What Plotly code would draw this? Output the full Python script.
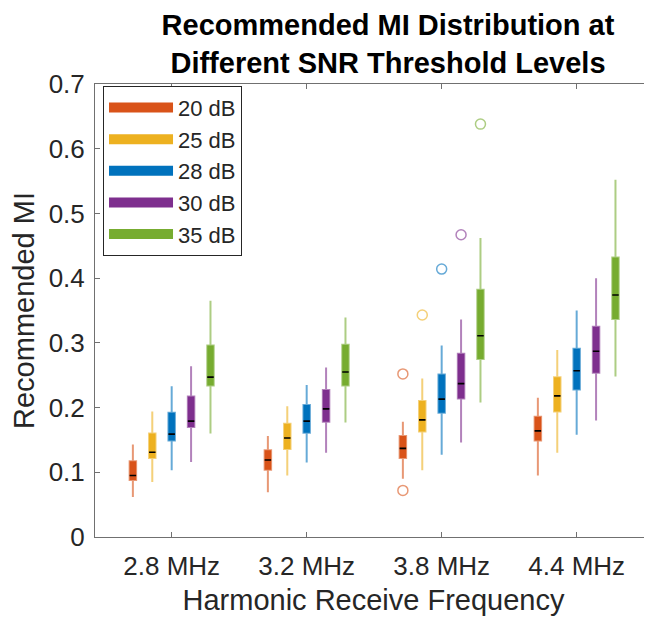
import plotly.graph_objects as go

freqs = ["2.8 MHz", "3.2 MHz", "3.8 MHz", "4.4 MHz"]
snr_levels = ["20 dB", "25 dB", "28 dB", "30 dB", "35 dB"]
colors = ["#D95319", "#EDB120", "#0072BD", "#7E2F8E", "#77AC30"]
edge_colors = ["rgba(217,83,25,0.6)", "rgba(237,177,32,0.6)", "rgba(0,114,189,0.6)",
               "rgba(126,47,142,0.6)", "rgba(119,172,48,0.6)"]

# per SNR level, values across the 4 frequencies
lower_whisker = {
    "20 dB": [0.062, 0.069, 0.090, 0.095],
    "25 dB": [0.085, 0.095, 0.103, 0.130],
    "28 dB": [0.103, 0.115, 0.127, 0.158],
    "30 dB": [0.116, 0.130, 0.146, 0.180],
    "35 dB": [0.160, 0.177, 0.208, 0.248],
}
q1 = {
    "20 dB": [0.088, 0.104, 0.122, 0.149],
    "25 dB": [0.122, 0.136, 0.163, 0.194],
    "28 dB": [0.149, 0.161, 0.192, 0.228],
    "30 dB": [0.170, 0.178, 0.214, 0.254],
    "35 dB": [0.234, 0.234, 0.275, 0.337],
}
median = {
    "20 dB": [0.095, 0.119, 0.137, 0.164],
    "25 dB": [0.131, 0.153, 0.181, 0.218],
    "28 dB": [0.159, 0.179, 0.213, 0.257],
    "30 dB": [0.179, 0.198, 0.237, 0.287],
    "35 dB": [0.247, 0.255, 0.311, 0.374],
}
q3 = {
    "20 dB": [0.117, 0.134, 0.156, 0.186],
    "25 dB": [0.160, 0.175, 0.210, 0.247],
    "28 dB": [0.192, 0.204, 0.251, 0.291],
    "30 dB": [0.217, 0.227, 0.283, 0.325],
    "35 dB": [0.296, 0.297, 0.382, 0.432],
}
upper_whisker = {
    "20 dB": [0.143, 0.156, 0.178, 0.215],
    "25 dB": [0.194, 0.202, 0.245, 0.289],
    "28 dB": [0.233, 0.235, 0.296, 0.350],
    "30 dB": [0.264, 0.262, 0.336, 0.400],
    "35 dB": [0.365, 0.339, 0.462, 0.552],
}
# outliers: (frequency, value) per SNR level
outlier_freq = {
    "20 dB": ["3.8 MHz", "3.8 MHz"],
    "25 dB": ["3.8 MHz"],
    "28 dB": ["3.8 MHz"],
    "30 dB": ["3.8 MHz"],
    "35 dB": ["3.8 MHz"],
}
outlier_val = {
    "20 dB": [0.252, 0.072],
    "25 dB": [0.343],
    "28 dB": [0.414],
    "30 dB": [0.467],
    "35 dB": [0.638],
}

FONT = "Liberation Sans, Arial, sans-serif"
TXT = "#262626"
AX = "#707070"

fig = go.Figure()

for i, lvl in enumerate(snr_levels):
    fig.add_trace(go.Box(
        x=freqs, q1=q1[lvl], median=median[lvl], q3=q3[lvl],
        lowerfence=lower_whisker[lvl], upperfence=upper_whisker[lvl],
        name=lvl, offsetgroup=str(i), fillcolor=colors[i],
        line=dict(color=edge_colors[i], width=2), whiskerwidth=0,
        boxpoints=False, showlegend=False, hoverinfo="skip",
    ))
    # black median marks
    fig.add_trace(go.Box(
        x=freqs, q1=median[lvl], median=median[lvl], q3=median[lvl],
        lowerfence=median[lvl], upperfence=median[lvl],
        name=lvl, offsetgroup=str(i), fillcolor="rgba(0,0,0,0)",
        line=dict(color="black", width=1.6), whiskerwidth=0,
        boxpoints=False, showlegend=False, hoverinfo="skip",
    ))
    # outliers
    fig.add_trace(go.Box(
        x=outlier_freq[lvl], y=outlier_val[lvl], name=lvl, offsetgroup=str(i),
        fillcolor="rgba(0,0,0,0)", line=dict(color="rgba(0,0,0,0)", width=0),
        boxpoints="all", pointpos=0, jitter=0, whiskerwidth=0,
        marker=dict(symbol="circle-open", size=10, color=edge_colors[i],
                    line=dict(width=1.5, color=edge_colors[i])),
        showlegend=False, hoverinfo="skip",
    ))
    # legend entry
    fig.add_trace(go.Scatter(
        x=[None], y=[None], mode="lines", name=lvl,
        line=dict(color=colors[i], width=11),
    ))

fig.update_layout(
    width=644, height=615,
    margin=dict(l=87, r=0, t=76, b=86),
    paper_bgcolor="white", plot_bgcolor="white",
    boxmode="group", boxgap=0.2815, boxgroupgap=0.666,
    font=dict(family=FONT, color=TXT, size=24),
    title=dict(
        text="<b>Recommended MI Distribution at<br>Different SNR Threshold Levels</b>",
        x=380 / 644, xref="container", xanchor="center",
        y=1 - 27 / 615, yref="container", yanchor="top",
        font=dict(family=FONT, size=29, color="black"),
    ),
    legend=dict(
        x=0.0144, y=0.996, xanchor="left", yanchor="top",
        bgcolor="white", bordercolor="#262626", borderwidth=1,
        font=dict(size=22, color=TXT), itemwidth=64,
        tracegroupgap=0,
    ),
    xaxis=dict(
        type="category", categoryorder="array", categoryarray=freqs,
        range=[-0.568, 3.558],
        showline=True, linecolor=AX, linewidth=1, mirror="ticks",
        ticks="inside", ticklen=5, tickcolor=AX,
        showgrid=False, zeroline=False,
        tickfont=dict(size=26, color=TXT),
        title=dict(text="Harmonic Receive Frequency", font=dict(size=29, color=TXT), standoff=9),
        ticklabelstandoff=6,
    ),
    yaxis=dict(
        range=[0, 0.7], dtick=0.1, tick0=0,
        showline=True, linecolor=AX, linewidth=1, mirror="ticks",
        ticks="inside", ticklen=5, tickcolor=AX,
        showgrid=False, zeroline=False,
        tickfont=dict(size=26, color=TXT),
        title=dict(text="Recommended MI", font=dict(size=29, color=TXT), standoff=11),
        ticklabelstandoff=4,
    ),
)

fig.write_html("out.html")
